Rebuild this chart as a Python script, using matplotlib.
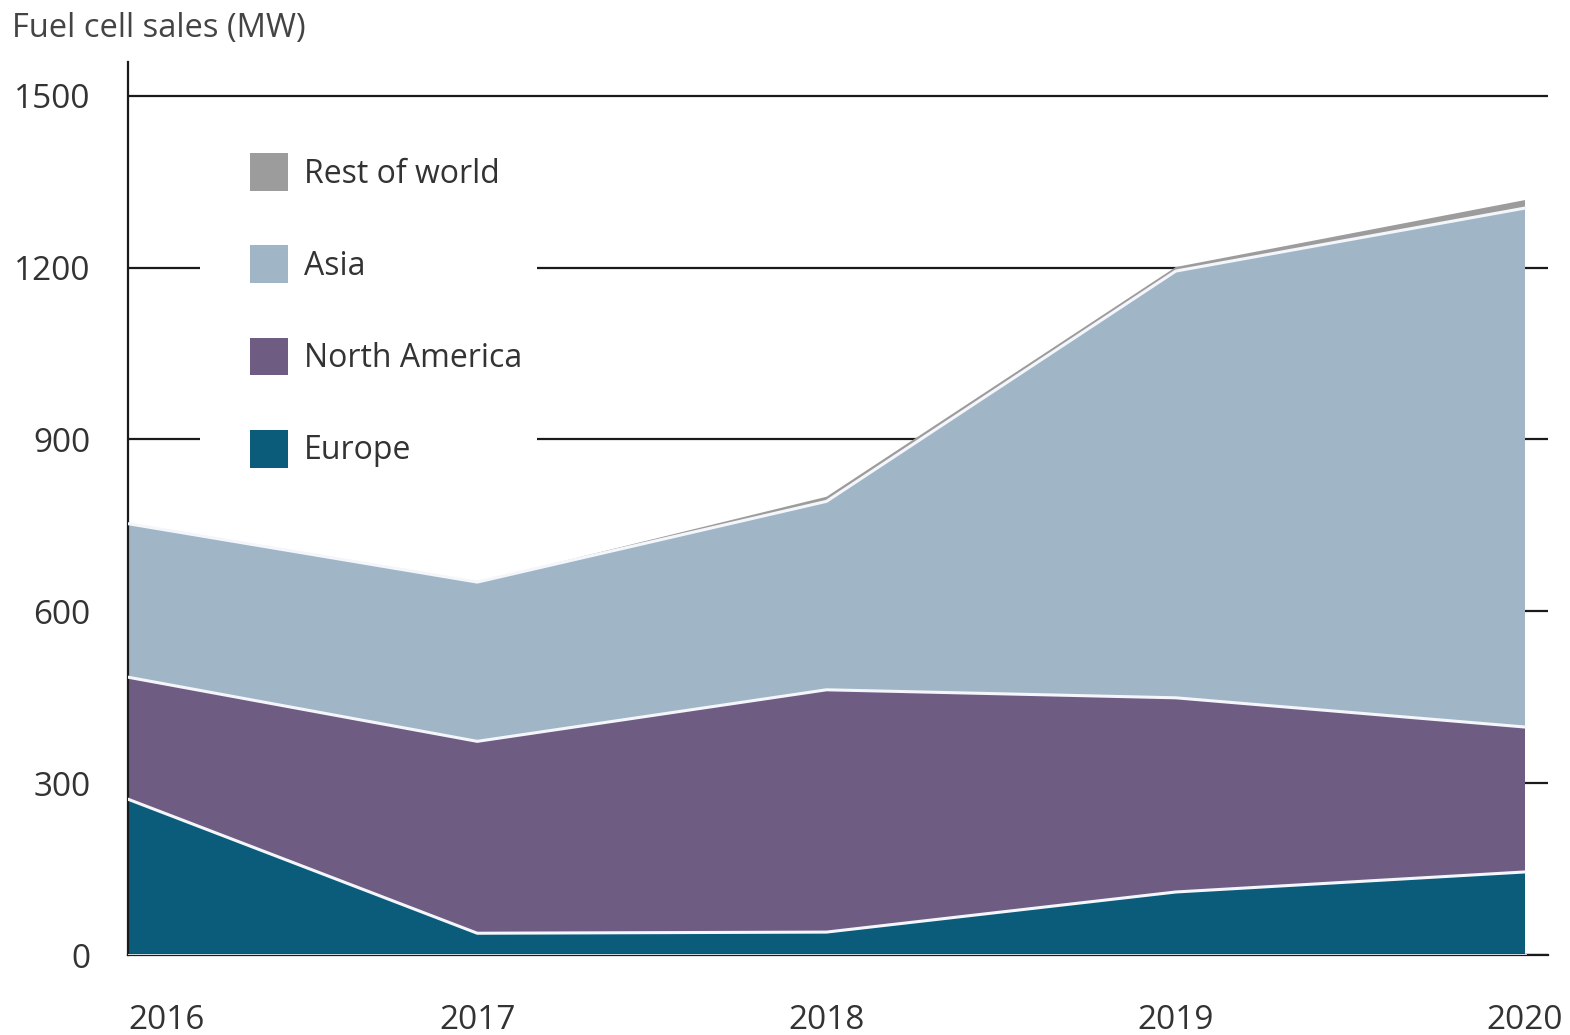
import numpy as np
import matplotlib.pyplot as plt
from matplotlib.patches import Patch, Rectangle

plt.rcParams['font.family'] = ['Open Sans', 'DejaVu Sans']

years = [2016, 2017, 2018, 2019, 2020]
europe = [272, 38, 40, 110, 145]
north_america = [213, 335, 423, 339, 253]
asia = [268, 278, 329, 745, 906]
rest_of_world = [0, 0, 8, 7, 14]

labels = ['Europe', 'North America', 'Asia', 'Rest of world']
colors = ['#0a5c7a', '#6e5c82', '#a0b6c6', '#9c9c9c']
yticks = [0, 300, 600, 900, 1200, 1500]
text_color = '#333333'

fig = plt.figure(figsize=(15.7, 10.35), dpi=100)
ax = fig.add_axes([128 / 1570, 1 - 955 / 1035, 1420 / 1570, 893 / 1035])

series = [europe, north_america, asia, rest_of_world]
ax.stackplot(years, *series, colors=colors, linewidth=0, zorder=2)

# white separators between layers
cum = np.cumsum(series, axis=0)
ax.plot(years, [0] * len(years), color='#e8eef5', lw=2, zorder=3)
for row in cum[:3]:
    ax.plot(years, row, color='#f4f6fb', lw=2.2, zorder=3)

ax.set_xlim(2016, 2020 + 4 * 23 / 1397)
ax.set_ylim(0, 1559)
ax.set_yticks(yticks)
ax.set_xticks(years)
ax.set_xticklabels([str(y) for y in years])
ax.tick_params(axis='both', length=0, labelsize=24, colors=text_color)
ax.tick_params(axis='y', pad=27)
ax.tick_params(axis='x', pad=35)
ax.get_xticklabels()[0].set_horizontalalignment('left')

ax.grid(axis='y', color='#1a1a1a', lw=1.6, zorder=0)
ax.set_axisbelow(True)
for s in ['top', 'right']:
    ax.spines[s].set_visible(False)
for s in ['left', 'bottom']:
    ax.spines[s].set_color('#1a1a1a')
    ax.spines[s].set_linewidth(1.6)

# white area behind the legend
ax.add_patch(Rectangle((0.0507, 0.55), 0.237, 0.40, transform=ax.transAxes,
                       facecolor='white', edgecolor='none', zorder=1))

handles = [Patch(facecolor=c, edgecolor='none') for c in colors][::-1]
leg = ax.legend(handles, labels[::-1], loc='upper left', bbox_to_anchor=(0.0859, 0.898),
                frameon=False, fontsize=23, handlelength=1.2, handleheight=1.45,
                handletextpad=0.5, labelspacing=1.7, borderpad=0, borderaxespad=0)
for t in leg.get_texts():
    t.set_color(text_color)

fig.text(12 / 1570, 1 - 28 / 1035, 'Fuel cell sales (MW)', fontsize=23.5,
         color='#444444', va='center', ha='left')

fig.savefig('out.png', dpi=100)
